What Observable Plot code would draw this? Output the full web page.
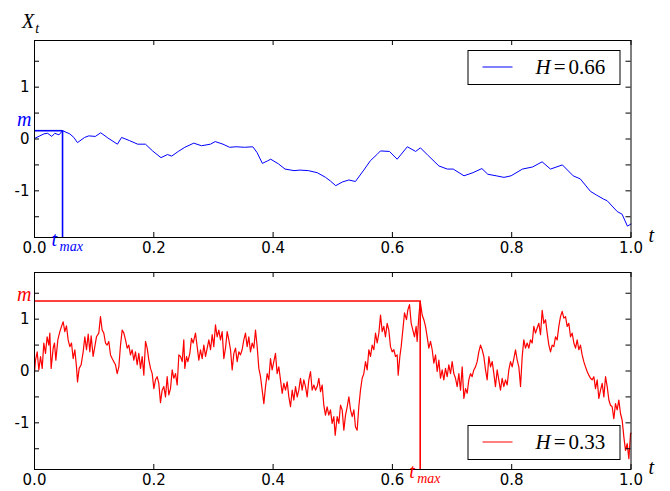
<!DOCTYPE html>
<html>
<head>
<meta charset="utf-8">
<script src="https://cdn.jsdelivr.net/npm/d3@7"></script>
<script src="https://cdn.jsdelivr.net/npm/@observablehq/plot@0.6"></script>
<style>
  html, body { margin: 0; padding: 0; background: #fff; }
  #chart { width: 670px; height: 491px; position: relative; overflow: hidden; }
  #chart svg { display: block; }
</style>
</head>
<body>
<div id="chart"></div>
<script>
// ---------- data ----------
const xTicks = [0, 0.2, 0.4, 0.6, 0.8, 1.0];
const yTicks = [-1.5, -1, -0.5, 0, 0.5, 1, 1.5];
const yLabels = [-1, 0, 1];
const yDomain = [-1.9, 1.9];

// H = 0.66 (blue)
const hTop = 0.66;
const tmaxTop = 0.047;
const mTop = 0.16;
const tTop = [0.000,0.009,0.016,0.022,0.029,0.034,0.041,0.047,0.059,0.066,0.072,0.084,0.091,0.102,0.111,0.123,0.139,0.146,0.159,0.173,0.186,0.198,0.212,0.223,0.230,0.241,0.252,0.267,0.280,0.295,0.303,0.316,0.327,0.338,0.352,0.366,0.373,0.382,0.391,0.396,0.409,0.420,0.435,0.445,0.459,0.474,0.488,0.496,0.505,0.516,0.527,0.538,0.552,0.563,0.574,0.580,0.595,0.608,0.625,0.639,0.647,0.660,0.678,0.692,0.702,0.720,0.735,0.750,0.760,0.774,0.787,0.799,0.818,0.835,0.851,0.865,0.885,0.903,0.915,0.932,0.942,0.954,0.960,0.977,0.985,0.994,1.000];
const vTop = [0.01,0.06,0.10,0.11,0.05,0.11,0.08,0.16,0.10,0.03,-0.07,0.03,0.06,0.05,0.12,0.02,-0.10,0.03,-0.03,-0.10,-0.10,-0.23,-0.36,-0.30,-0.33,-0.24,-0.16,-0.08,-0.13,-0.10,-0.05,-0.10,-0.16,-0.15,-0.16,-0.15,-0.26,-0.47,-0.42,-0.39,-0.48,-0.58,-0.61,-0.60,-0.61,-0.65,-0.74,-0.81,-0.90,-0.83,-0.79,-0.82,-0.60,-0.42,-0.30,-0.23,-0.24,-0.39,-0.15,-0.24,-0.17,-0.32,-0.52,-0.58,-0.58,-0.71,-0.65,-0.57,-0.68,-0.71,-0.74,-0.71,-0.58,-0.54,-0.44,-0.58,-0.50,-0.71,-0.77,-1.01,-1.08,-1.16,-1.19,-1.40,-1.45,-1.68,-1.64];

// H = 0.33 (red)
const hBot = 0.33;
const tmaxBot = 0.6466;
const mBot = 1.35;
const tBot = [0.0000,0.0017,0.0045,0.0073,0.0101,0.0129,0.0156,0.0184,0.0212,0.0240,0.0257,0.0279,0.0313,0.0335,0.0358,0.0391,0.0425,0.0453,0.0481,0.0508,0.0536,0.0564,0.0592,0.0620,0.0648,0.0676,0.0704,0.0721,0.0749,0.0782,0.0816,0.0844,0.0872,0.0900,0.0928,0.0950,0.0983,0.1011,0.1039,0.1078,0.1106,0.1134,0.1162,0.1190,0.1218,0.1246,0.1274,0.1302,0.1330,0.1358,0.1386,0.1414,0.1442,0.1470,0.1498,0.1526,0.1554,0.1581,0.1609,0.1637,0.1665,0.1693,0.1721,0.1749,0.1777,0.1805,0.1833,0.1861,0.1889,0.1917,0.1945,0.1973,0.2001,0.2028,0.2056,0.2084,0.2112,0.2140,0.2168,0.2196,0.2224,0.2252,0.2280,0.2308,0.2336,0.2364,0.2392,0.2420,
0.2448,0.2476,0.2503,0.2520,0.2548,0.2571,0.2604,0.2632,0.2660,0.2699,0.2727,0.2755,0.2783,0.2811,0.2839,0.2867,0.2895,0.2923,0.2951,0.2979,0.3006,0.3034,0.3062,0.3090,0.3118,0.3146,0.3174,0.3202,0.3230,0.3258,0.3286,0.3314,0.3342,0.3370,0.3398,0.3426,0.3453,0.3481,0.3509,0.3537,0.3565,0.3593,0.3621,0.3649,0.3677,0.3705,0.3733,0.3761,0.3789,0.3817,0.3845,0.3873,0.3901,0.3928,0.3956,0.3984,0.4012,0.4040,0.4068,0.4096,0.4124,0.4152,0.4180,0.4208,0.4236,0.4264,0.4292,0.4320,0.4348,0.4376,0.4404,0.4431,0.4459,0.4487,0.4515,0.4543,0.4571,0.4599,0.4627,0.4655,0.4683,0.4711,0.4739,0.4767,0.4795,0.4823,0.4850,0.4878,0.4906,0.4934,
0.4962,0.4990,0.5018,0.5041,0.5074,0.5102,0.5130,0.5158,0.5186,0.5214,0.5242,0.5270,0.5298,0.5326,0.5354,0.5381,0.5409,0.5437,0.5465,0.5493,0.5521,0.5549,0.5577,0.5605,0.5633,0.5661,0.5689,0.5717,0.5745,0.5773,0.5801,0.5829,0.5856,0.5884,0.5912,0.5940,0.5968,0.5996,0.6024,0.6052,0.6080,0.6097,0.6125,0.6147,0.6181,0.6203,0.6236,0.6259,0.6287,0.6315,0.6343,0.6370,0.6398,0.6415,0.6443,0.6466,0.6499,0.6527,0.6555,0.6583,0.6611,0.6639,0.6667,0.6695,0.6723,0.6751,0.6779,0.6806,0.6834,0.6862,0.6890,0.6918,0.6946,0.6974,0.7002,0.7030,0.7058,0.7086,0.7114,0.7142,0.7170,0.7198,0.7226,0.7254,0.7281,0.7309,0.7337,0.7365,0.7393,0.7421,0.7449,
0.7477,0.7505,0.7533,0.7561,0.7589,0.7617,0.7645,0.7673,0.7701,0.7728,0.7756,0.7784,0.7812,0.7840,0.7868,0.7896,0.7924,0.7952,0.7980,0.8008,0.8036,0.8064,0.8092,0.8120,0.8148,0.8176,0.8203,0.8231,0.8259,0.8287,0.8315,0.8343,0.8371,0.8399,0.8427,0.8455,0.8483,0.8511,0.8539,0.8567,0.8595,0.8623,0.8651,0.8678,0.8706,0.8734,0.8762,0.8790,0.8818,0.8846,0.8874,0.8902,0.8930,0.8958,0.8986,0.9014,0.9042,0.9070,0.9098,0.9125,0.9153,0.9181,0.9209,0.9237,0.9265,0.9293,0.9321,0.9349,0.9377,0.9405,0.9433,0.9461,0.9489,0.9517,0.9545,0.9573,0.9601,0.9629,0.9656,0.9684,0.9712,0.9740,0.9768,0.9796,0.9824,0.9852,0.9880,0.9908,0.9936,0.9964,0.9992,1.0000];
const vBot = [-0.03,0.21,0.37,0.02,0.28,0.05,0.54,0.34,0.66,0.50,0.73,0.05,0.44,0.54,0.21,0.60,0.76,0.86,0.95,0.76,0.87,0.60,0.47,0.54,0.24,0.41,0.08,-0.21,0.05,0.12,0.37,0.66,0.41,0.71,0.37,0.68,0.28,0.47,0.66,0.73,1.05,0.79,0.73,0.54,0.50,0.57,0.31,0.24,0.18,0.12,-0.05,0.08,0.50,0.79,0.73,0.60,0.44,0.50,0.31,0.41,0.21,0.37,0.12,0.34,0.05,0.28,-0.08,0.57,0.44,0.21,0.05,-0.05,-0.34,-0.17,-0.11,-0.24,-0.61,-0.37,-0.30,-0.50,-0.11,-0.46,-0.34,0.02,-0.14,-0.05,-0.27,0.31,
0.28,0.18,0.60,0.05,0.28,0.18,0.34,0.63,0.54,0.73,0.47,0.21,0.41,0.24,0.50,0.28,0.44,0.60,0.41,0.70,0.47,0.89,0.66,0.79,0.60,0.76,0.24,0.44,0.76,0.60,0.41,0.02,0.34,0.44,0.18,0.37,0.31,0.41,0.60,0.73,0.47,0.66,0.37,0.54,0.44,0.79,0.47,0.05,-0.11,-0.37,-0.63,-0.30,-0.05,-0.17,0.24,0.02,0.18,0.34,-0.05,0.08,-0.17,-0.43,-0.24,-0.37,-0.21,-0.50,-0.69,-0.37,-0.56,-0.30,-0.50,-0.37,-0.14,-0.37,-0.17,-0.30,-0.50,-0.17,-0.01,-0.37,-0.27,-0.37,-0.30,-0.14,-0.40,-0.27,-0.66,-0.85,-0.69,-0.85,
-0.75,-1.01,-0.88,-1.24,-0.88,-1.01,-0.66,-0.75,-1.14,-0.85,-0.69,-0.50,-0.75,-0.88,-0.75,-1.08,-1.14,-0.69,-0.37,-0.14,-0.05,0.18,0.02,0.41,0.28,0.50,0.41,0.73,0.54,0.73,1.08,0.76,0.86,0.66,0.92,0.79,0.47,0.37,0.41,0.28,0.31,-0.08,0.28,0.47,0.86,1.12,0.99,1.18,1.28,0.92,0.79,0.66,0.86,0.57,1.05,1.35,1.08,0.99,0.86,0.66,0.44,0.57,0.41,0.15,0.31,-0.01,0.21,-0.14,0.02,-0.17,0.05,-0.11,0.12,-0.05,0.18,-0.05,-0.14,-0.30,-0.05,-0.37,0.08,-0.53,-0.34,-0.43,-0.17,-0.05,-0.11,0.02,0.08,0.18,0.37,
0.50,0.41,0.28,0.02,-0.17,0.28,0.08,0.18,-0.05,-0.30,0.02,-0.17,-0.37,-0.14,-0.30,-0.17,-0.27,0.02,0.18,0.08,0.24,0.41,0.21,0.08,-0.30,0.28,0.60,0.44,0.54,0.44,0.60,0.54,0.86,0.73,0.83,0.92,0.70,1.17,0.92,0.99,0.73,0.50,0.37,0.50,0.47,0.66,0.60,0.86,1.05,1.15,1.02,1.05,0.86,0.92,0.66,0.73,0.54,0.44,0.60,0.41,0.50,0.31,0.18,0.08,-0.01,-0.08,-0.14,-0.17,-0.11,-0.34,-0.17,-0.53,-0.37,-0.24,-0.50,-0.11,-0.30,-0.56,-0.66,-0.69,-0.92,-0.63,-0.75,-0.56,-0.82,-0.95,-1.27,-1.53,-1.40,-1.69,-1.21,-1.20];

// ---------- drawing ----------
const W = 670, ML = 34, MR = 39.5;
const SANS = "'DejaVu Sans', sans-serif";
const SERIF = "'Liberation Serif', 'DejaVu Serif', serif";
const TICK = 5;

function panel(o) {
  const data = o.t.map((t, i) => ({t, v: o.v[i]}));
  const fw = W - ML - MR;
  const fh = o.height - o.marginTop - o.marginBottom;
  const svg = Plot.plot({
    width: W,
    height: o.height,
    marginLeft: ML,
    marginRight: MR,
    marginTop: o.marginTop,
    marginBottom: o.marginBottom,
    style: {fontFamily: SANS, fontSize: "15px", color: "black", background: "white", overflow: "visible"},
    x: {domain: [0, 1]},
    y: {domain: yDomain},
    marks: [
      Plot.ruleY([o.m], {x1: 0, x2: o.tmax, stroke: o.color, strokeWidth: 1.6}),
      Plot.ruleX([o.tmax], {y1: yDomain[0], y2: o.m, stroke: o.color, strokeWidth: 1.6}),
      Plot.line(data, {x: "t", y: "v", stroke: o.color, strokeWidth: o.lineWidth}),
      Plot.tickX(xTicks, {x: d => d, insetTop: fh - TICK, stroke: "black"}),
      Plot.tickX(xTicks, {x: d => d, insetBottom: fh - TICK, stroke: "black"}),
      Plot.tickY(yTicks, {y: d => d, insetLeft: fw - TICK, stroke: "black"}),
      Plot.tickY(yTicks, {y: d => d, insetRight: fw - TICK, stroke: "black"}),
      Plot.frame({stroke: "black", strokeWidth: 1}),
      Plot.axisX({ticks: xTicks, tickSize: 0, tickPadding: 5, tickFormat: d3.format(".1f"), label: null, fontSize: 15}),
      Plot.axisY({ticks: yLabels, tickSize: 0, tickPadding: 5, tickFormat: d => d < 0 ? "-" + (-d) : String(d), label: null, fontSize: 15}),
      Plot.text([o.m], {y: d => d, frameAnchor: "left", text: () => "m", dx: -3, dy: o.mDy, lineAnchor: "bottom", textAnchor: "end", fill: o.color, fontFamily: SERIF, fontStyle: "italic", fontSize: 20}),
      Plot.text([o.tmax], {x: d => d, frameAnchor: "bottom", text: () => "t", dx: -11, dy: 8, textAnchor: "start", fill: o.color, fontFamily: SERIF, fontStyle: "italic", fontSize: 20}),
      Plot.text([o.tmax], {x: d => d, frameAnchor: "bottom", text: () => "max", dx: -3, dy: 13, textAnchor: "start", fill: o.color, fontFamily: SERIF, fontStyle: "italic", fontSize: 14})
    ]
  });
  const s = d3.select(svg);
  // legend
  const right = W - MR - 11;
  const left = right - 152;
  const boxTop = o.legendTop === "top" ? o.marginTop + 10 : o.height - o.marginBottom - 10 - 34;
  const g = s.append("g").attr("text-anchor", "start");
  g.append("rect").attr("x", left + 0.5).attr("y", boxTop + 0.5).attr("width", 152).attr("height", 34)
    .attr("fill", "white").attr("stroke", "black").attr("stroke-width", 1);
  const cy = boxTop + 17;
  g.append("line").attr("x1", left + 15).attr("x2", left + 45).attr("y1", cy).attr("y2", cy)
    .attr("stroke", o.color).attr("stroke-width", 1);
  const tx = g.append("text").attr("x", left + 68).attr("y", cy + 7)
    .attr("font-family", SERIF).attr("font-size", 21).attr("fill", "black");
  tx.append("tspan").attr("font-style", "italic").text("H");
  tx.append("tspan").attr("dx", 3).text("=");
  tx.append("tspan").attr("dx", 3).text(o.H.toFixed(2));
  // axis label t at right end
  s.append("text").attr("text-anchor", "start").attr("x", W - MR + 18).attr("y", o.height - o.marginBottom + 5)
    .attr("font-family", SERIF).attr("font-style", "italic").attr("font-size", 20).attr("fill", "black").text("t");
  return svg;
}

const chart = document.getElementById("chart");
const topSvg = panel({t: tTop, v: vTop, tmax: tmaxTop, m: mTop, H: hTop, color: "#0000ff", lineWidth: 1, mDy: -5,
  height: 255, marginTop: 40, marginBottom: 18, legendTop: "top"});
// X_t label
const xl = d3.select(topSvg).append("text").attr("text-anchor", "start").attr("x", 22).attr("y", 28)
  .attr("font-family", SERIF).attr("font-size", 20).attr("fill", "black");
xl.append("tspan").attr("font-style", "italic").text("X");
xl.append("tspan").attr("font-style", "italic").attr("font-size", 14).attr("dx", 1).attr("dy", 5).text("t");
chart.appendChild(topSvg);
const botSvg = panel({t: tBot, v: vBot, tmax: tmaxBot, m: mBot, H: hBot, color: "#ff0000", lineWidth: 1.2, mDy: 0,
  height: 236, marginTop: 17, marginBottom: 22, legendTop: "bottom"});
chart.appendChild(botSvg);
</script>
</body>
</html>
